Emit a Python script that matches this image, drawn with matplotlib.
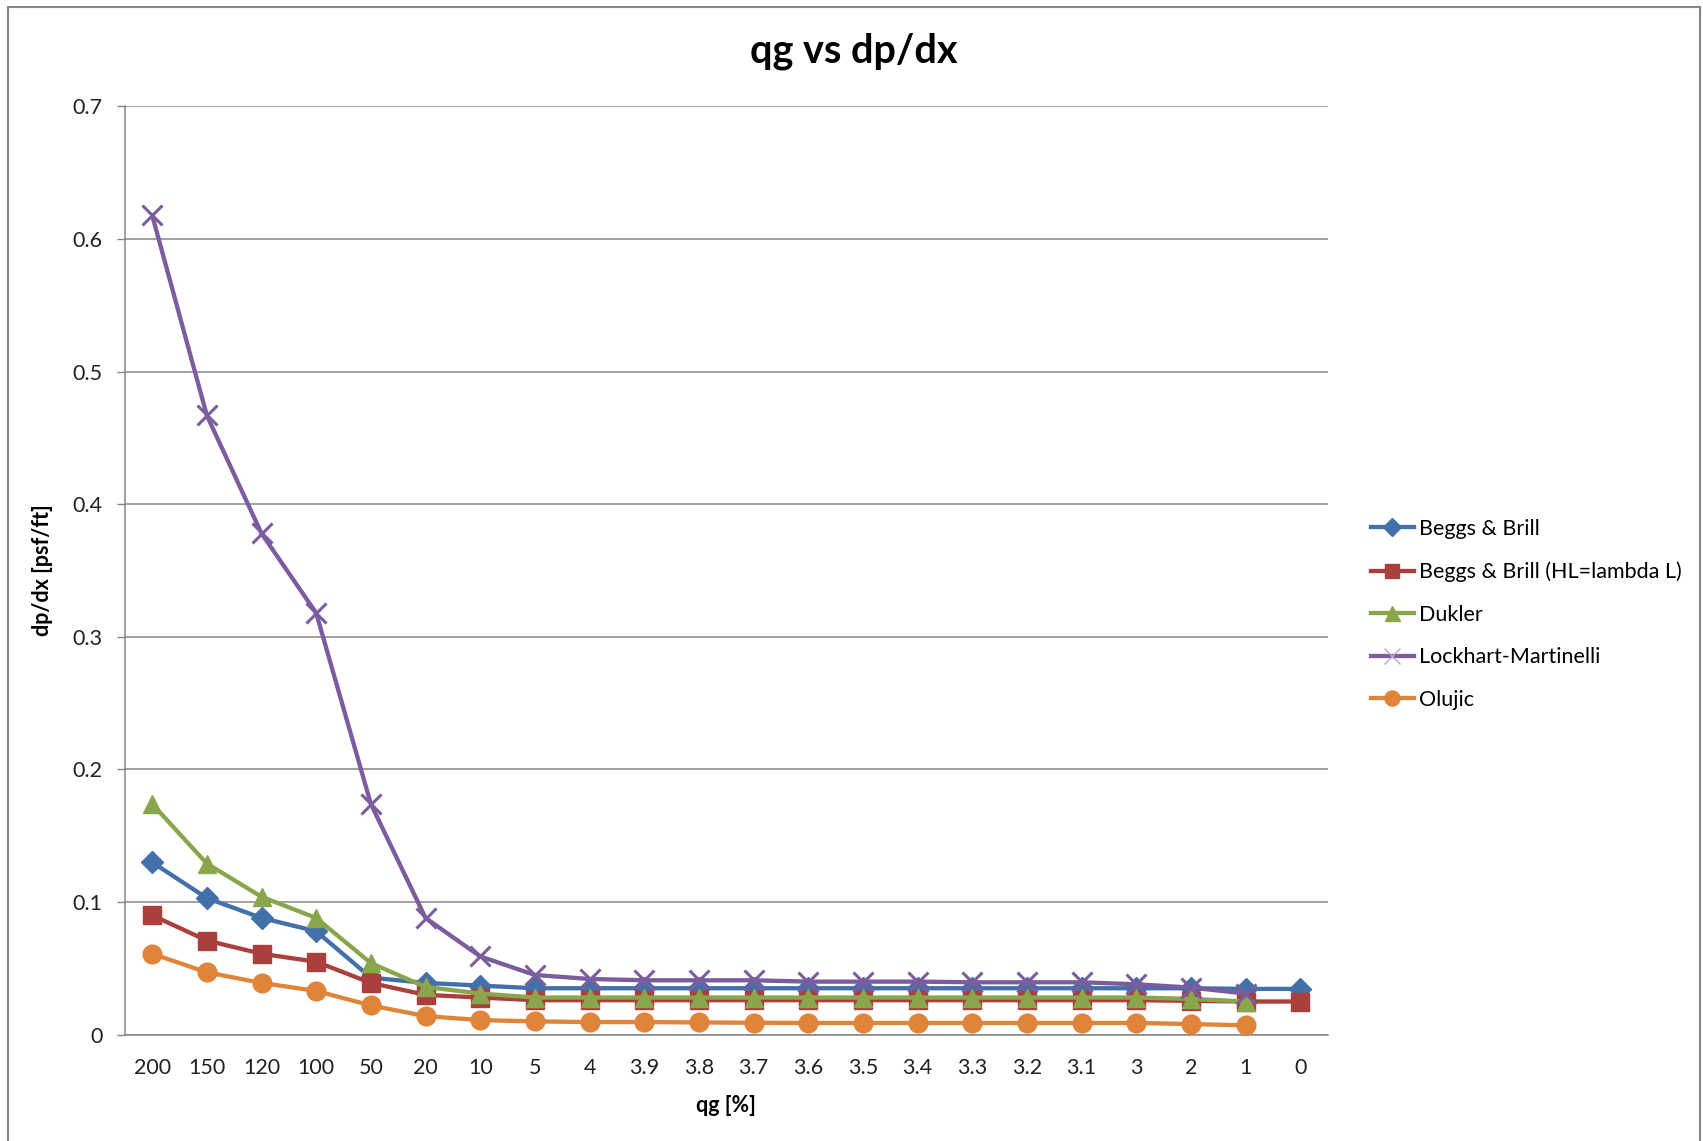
import matplotlib
matplotlib.use('Agg')
import matplotlib.pyplot as plt
from matplotlib.lines import Line2D

plt.rcParams['font.family'] = ['Lato', 'DejaVu Sans']

qg_labels = ['200', '150', '120', '100', '50', '20', '10', '5', '4', '3.9', '3.8',
             '3.7', '3.6', '3.5', '3.4', '3.3', '3.2', '3.1', '3', '2', '1', '0']

beggs_brill = [0.130, 0.103, 0.088, 0.078, 0.043, 0.039, 0.037, 0.035, 0.035, 0.035, 0.035,
               0.035, 0.035, 0.035, 0.035, 0.035, 0.035, 0.035, 0.035, 0.035, 0.0345, 0.0345]
beggs_brill_hl = [0.090, 0.071, 0.061, 0.055, 0.039, 0.030, 0.028, 0.026, 0.026, 0.026, 0.026,
                  0.026, 0.026, 0.026, 0.026, 0.026, 0.026, 0.026, 0.026, 0.0255, 0.025, 0.025]
dukler = [0.174, 0.129, 0.104, 0.088, 0.054, 0.036, 0.031, 0.028, 0.028, 0.028, 0.028,
          0.028, 0.028, 0.028, 0.028, 0.028, 0.028, 0.028, 0.028, 0.027, 0.025]
lockhart = [0.618, 0.467, 0.378, 0.318, 0.174, 0.088, 0.059, 0.045, 0.042, 0.041, 0.041,
            0.041, 0.040, 0.040, 0.040, 0.0395, 0.0395, 0.0395, 0.038, 0.0355, 0.031]
olujic = [0.061, 0.047, 0.039, 0.033, 0.022, 0.014, 0.011, 0.010, 0.0095, 0.0095, 0.0092,
          0.009, 0.0088, 0.0088, 0.0088, 0.0088, 0.0088, 0.0088, 0.0088, 0.008, 0.007]

series = [
    ('Beggs & Brill', beggs_brill, '#4170AA', 'D', 11.5),
    ('Beggs & Brill (HL=lambda L)', beggs_brill_hl, '#AA3F3C', 's', 12.5),
    ('Dukler', dukler, '#8AA64C', '^', 13.5),
    ('Lockhart-Martinelli', lockhart, '#7B5C9E', 'x', 14),
    ('Olujic', olujic, '#E0843A', 'o', 13.5),
]

fig = plt.figure(figsize=(17.03, 11.41), dpi=100)
ax = fig.add_axes([0.0733, 0.0932, 0.7063, 0.8135])

handles = []
for name, vals, col, mk, ms in series:
    x = list(range(len(vals)))
    if mk == 'x':
        ax.plot(x, vals, color=col, lw=3.1, marker=mk, ms=ms, mew=2.2, zorder=3)
        h = Line2D([], [], color=col, lw=3.1, marker=mk, ms=ms * 0.85, mew=1.0,
                   markeredgecolor='#B5A3CC')
    else:
        ax.plot(x, vals, color=col, lw=3.1, marker=mk, ms=ms, mec=col, mfc=col, zorder=3)
        h = Line2D([], [], color=col, lw=3.1, marker=mk, ms=ms * 0.8, mec=col, mfc=col)
    handles.append(h)

ax.set_xlim(-0.5, len(qg_labels) - 0.5)
ax.set_ylim(0, 0.7)
ax.set_xticks(range(len(qg_labels)))
ax.set_xticklabels(qg_labels)
ax.set_yticks([0, 0.1, 0.2, 0.3, 0.4, 0.5, 0.6, 0.7])
ax.set_yticklabels(['0', '0.1', '0.2', '0.3', '0.4', '0.5', '0.6', '0.7'])
ax.tick_params(axis='x', length=0, pad=17, labelsize=15.5, colors='#222222')
ax.tick_params(axis='y', length=6, width=1, color='#868686', pad=10, labelsize=15.5,
               labelcolor='#222222')
ax.grid(axis='y', color='#868686', lw=1.1)
ax.set_axisbelow(True)
for s in ['top', 'right']:
    ax.spines[s].set_visible(False)
for s in ['left', 'bottom']:
    ax.spines[s].set_color('#868686')
    ax.spines[s].set_linewidth(1.1)

ax.set_xlabel('qg [%]', fontsize=15.5, fontweight='bold', labelpad=12)
ax.set_ylabel('dp/dx [psf/ft]', fontsize=15.5, fontweight='bold', labelpad=14)
fig.text(0.5015, 0.955, 'qg vs dp/dx', fontsize=28.5, fontweight='bold',
         ha='center', va='center')

fig.legend(handles, [s[0] for s in series], loc='center left',
           bbox_to_anchor=(0.7935, 0.4615), frameon=False, fontsize=15.5,
           handlelength=2.0, handletextpad=0.25, labelspacing=1.05)

# outer chart border
border = plt.Rectangle((8 / 1703, -0.01), (1700 - 8) / 1703, 1 - 7 / 1141 + 0.01,
                       transform=fig.transFigure, fill=False, ec='#868686', lw=1.5)
fig.patches.append(border)

fig.savefig('out.png', dpi=100)
